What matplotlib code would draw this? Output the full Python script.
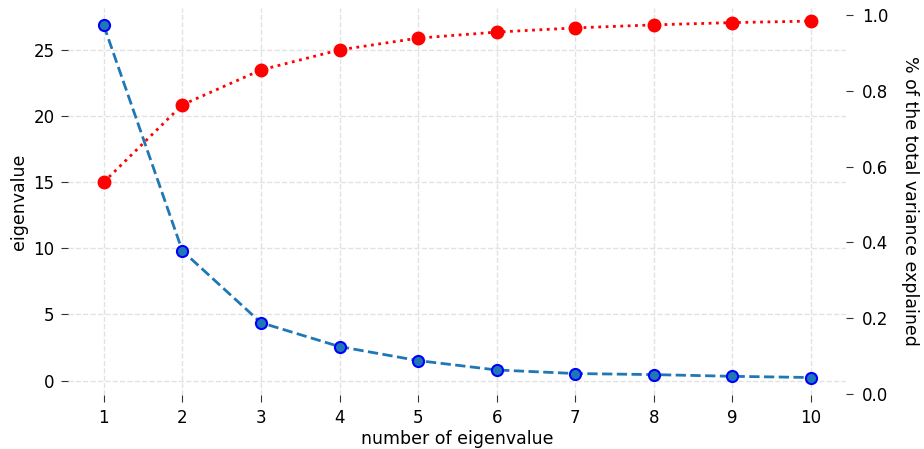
import numpy as np
import matplotlib.pyplot as plt

# eigenvalues and cumulative share of variance
n_eig = [1, 2, 3, 4, 5, 6, 7, 8, 9, 10]
eigvals = [26.89, 9.82, 4.38, 2.57, 1.51, 0.80, 0.53, 0.45, 0.32, 0.23]
cum_var = [0.559, 0.763, 0.855, 0.908, 0.939, 0.955, 0.966, 0.974, 0.980, 0.984]

fig, ax = plt.subplots(figsize=(9.24, 4.49), dpi=100)
fig.subplots_adjust(left=0.074, right=0.916, bottom=0.12, top=0.983)

ax.plot(n_eig, eigvals, '--', color='C0', linewidth=2,
        marker='o', markersize=8, markerfacecolor='C0', markeredgecolor='blue',
        markeredgewidth=1.5)
ax.set_xlabel("number of eigenvalue", fontsize=12.5, labelpad=2)
ax.set_ylabel("eigenvalue", fontsize=12.5, labelpad=4)
ax.set_xticks(n_eig)
ax.grid(True, linestyle='--', color='#e2e2e2', linewidth=1)
ax.tick_params(labelsize=12, length=5, pad=5, color='#333333')

ax2 = ax.twinx()
ax2.plot(n_eig, cum_var, 'r:', linewidth=2, marker='o', markersize=9)
ax2.set_ylim(-0.003, 1.0195)
ax2.set_ylabel("% of the total variance explained", fontsize=12.5,
               rotation=270, labelpad=22)
ax2.tick_params(labelsize=12, length=5, pad=6, color='#333333')

for a in (ax, ax2):
    for s in a.spines.values():
        s.set_visible(False)

plt.savefig("out.png")
